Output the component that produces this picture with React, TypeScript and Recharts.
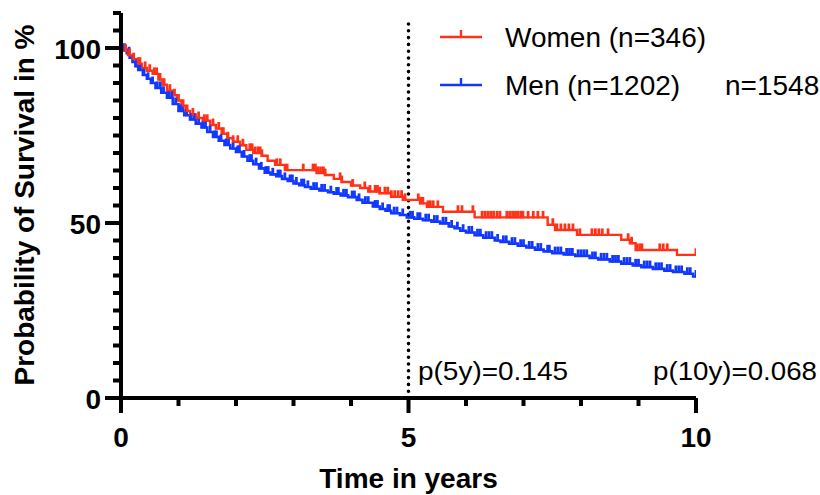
import React from 'react';
import { ComposedChart, Line, XAxis, YAxis, ReferenceLine, Legend, Label } from 'recharts';

const FONT = '"Liberation Sans", Arial, Helvetica, sans-serif';
const RED = '#FF3217';
const BLUE = '#1038FF';

// Kaplan-Meier steps: Women
const womenEventTimes = [0, 0.05, 0.12, 0.2, 0.28, 0.36, 0.45, 0.55, 0.65, 0.72, 0.8, 0.9, 0.98, 1.05, 1.12, 1.2, 1.3, 1.42, 1.55, 1.65, 1.75, 1.85, 1.95, 2.07, 2.18, 2.3, 2.45, 2.55, 2.68, 2.85, 3.4, 3.55, 3.7, 3.84, 4.0, 4.16, 4.3, 4.5, 4.7, 4.9, 5.2, 5.32, 5.6, 6.15, 7.42, 7.55, 7.93, 8.7, 8.85, 8.95, 9.67];
const womenEventSurv = [100, 99.2, 98.0, 96.8, 95.5, 94.3, 93.5, 92.6, 91.0, 89.5, 87.8, 86.5, 85.0, 83.5, 82.0, 81.0, 80.0, 79.2, 78.0, 77.0, 75.5, 74.2, 73.2, 72.2, 70.9, 70.0, 69.2, 67.8, 66.6, 65.1, 64.3, 63.7, 62.6, 61.7, 60.7, 60.0, 59.0, 58.5, 57.5, 56.6, 55.6, 54.6, 53.2, 51.6, 49.5, 48.0, 46.6, 45.2, 44.2, 42.3, 40.9];
const womenCensorTimes = [0.08, 0.15, 0.22, 0.3, 0.33, 0.42, 0.5, 0.58, 0.62, 0.68, 0.75, 0.85, 0.93, 1.0, 1.08, 1.15, 1.25, 1.35, 1.45, 1.5, 1.6, 1.7, 1.78, 1.86, 1.95, 2.03, 2.12, 2.24, 2.28, 2.33, 2.38, 2.42, 2.45, 2.71, 2.77, 2.89, 3.17, 3.34, 3.38, 3.42, 3.47, 3.52, 3.55, 3.81, 3.84, 4.03, 4.24, 4.33, 4.42, 4.46, 4.5, 4.59, 4.64, 4.7, 4.76, 4.82, 4.88, 4.94, 5.17, 5.21, 5.25, 5.34, 5.38, 5.43, 5.51, 5.86, 5.93, 6.12, 6.28, 6.33, 6.38, 6.43, 6.48, 6.54, 6.59, 6.71, 6.76, 6.81, 6.86, 6.9, 6.95, 6.99, 7.08, 7.17, 7.25, 7.34, 7.51, 7.58, 7.65, 7.72, 7.79, 7.86, 7.98, 8.19, 8.25, 8.31, 8.37, 8.47, 8.82, 8.88, 8.97, 9.02, 9.06, 9.37, 9.43, 9.5, 10.0];

// Kaplan-Meier steps: Men
const menEventTimes = [0, 0.05, 0.1, 0.15, 0.2, 0.25, 0.3, 0.38, 0.45, 0.52, 0.6, 0.7, 0.8, 0.9, 1.0, 1.1, 1.2, 1.3, 1.4, 1.5, 1.6, 1.7, 1.8, 1.9, 2.0, 2.1, 2.2, 2.3, 2.4, 2.5, 2.6, 2.7, 2.8, 2.9, 3.0, 3.1, 3.2, 3.3, 3.45, 3.6, 3.7, 3.82, 3.95, 4.1, 4.2, 4.38, 4.5, 4.6, 4.7, 4.85, 4.97, 5.1, 5.25, 5.4, 5.55, 5.7, 5.8, 5.9, 6.0, 6.15, 6.3, 6.5, 6.6, 6.75, 6.9, 7.05, 7.2, 7.35, 7.5, 7.7, 7.9, 8.15, 8.3, 8.5, 8.7, 8.9, 9.05, 9.25, 9.45, 9.6, 9.8, 9.95];
const menEventSurv = [100, 99.5, 98.5, 97.2, 96.0, 94.8, 93.7, 92.3, 91.2, 90.0, 88.6, 87.2, 85.8, 84.0, 82.0, 80.8, 79.6, 78.4, 77.3, 76.0, 74.6, 73.5, 72.3, 71.3, 70.3, 69.0, 67.8, 66.8, 65.6, 64.4, 63.9, 63.4, 62.6, 62.0, 61.3, 60.8, 60.3, 59.8, 59.3, 58.8, 58.4, 57.9, 57.4, 56.6, 55.8, 54.7, 54.0, 53.5, 52.8, 52.3, 51.6, 51.2, 50.8, 50.4, 49.9, 49.0, 48.5, 47.8, 47.3, 46.5, 45.8, 45.0, 44.6, 44.1, 43.5, 43.0, 42.4, 41.9, 41.4, 41.0, 40.6, 40.0, 39.6, 39.0, 38.4, 37.9, 37.4, 36.9, 36.4, 36.0, 35.5, 34.7];
const menCensorTimes = [0.06, 0.14, 0.21, 0.27, 0.33, 0.4, 0.47, 0.55, 0.63, 0.68, 0.74, 0.83, 0.88, 0.95, 1.03, 1.07, 1.14, 1.22, 1.27, 1.35, 1.43, 1.47, 1.55, 1.63, 1.66, 1.74, 1.83, 1.87, 1.95, 2.03, 2.06, 2.14, 2.24, 2.27, 2.35, 2.44, 2.52, 2.56, 2.64, 2.73, 2.77, 2.85, 2.94, 2.98, 3.05, 3.14, 3.18, 3.25, 3.35, 3.4, 3.49, 3.54, 3.65, 3.75, 3.78, 3.87, 3.92, 4.02, 4.06, 4.14, 4.25, 4.3, 4.42, 4.46, 4.55, 4.64, 4.67, 4.75, 4.8, 4.9, 5.03, 5.07, 5.16, 5.2, 5.3, 5.35, 5.45, 5.5, 5.6, 5.65, 5.75, 5.85, 5.95, 6.05, 6.1, 6.2, 6.25, 6.35, 6.4, 6.45, 6.55, 6.65, 6.7, 6.8, 6.85, 6.95, 7.0, 7.1, 7.15, 7.25, 7.3, 7.42, 7.45, 7.55, 7.6, 7.65, 7.75, 7.8, 7.85, 7.95, 8.0, 8.05, 8.1, 8.2, 8.25, 8.35, 8.4, 8.45, 8.55, 8.6, 8.65, 8.75, 8.8, 8.85, 8.95, 9.0, 9.1, 9.15, 9.2, 9.3, 9.35, 9.4, 9.5, 9.55, 9.65, 9.7, 9.75, 9.85, 9.9, 10.0];

const xTicks = [0, 1, 2, 3, 4, 5, 6, 7, 8, 9, 10];
const xMajorTicks = [0, 5, 10];
const yTicks = [0, 5, 10, 15, 20, 25, 30, 35, 40, 45, 50, 55, 60, 65, 70, 75, 80, 85, 90, 95, 100, 105, 110];
const yMajorTicks = [0, 50, 100];
const seriesNames = ['Women (n=346)', 'Men (n=1202)'];
const totalLabel = 'n=1548';
const pValueLabels = ['p(5y)=0.145', 'p(10y)=0.068'];
const xAxisTitle = 'Time in years';
const yAxisTitle = 'Probability of Survival in %';

type Pt = { t: number; s: number; c: boolean };

function buildKM(times: number[], surv: number[], censor: number[]): Pt[] {
  const pts: Pt[] = times.map((t, i) => ({ t, s: surv[i], c: false }));
  censor.forEach((ct) => {
    let s = surv[0];
    for (let i = 0; i < times.length; i++) if (times[i] <= ct) s = surv[i];
    pts.push({ t: ct, s, c: true });
  });
  pts.sort((a, b) => a.t - b.t || (a.c ? 1 : 0) - (b.c ? 1 : 0));
  return pts;
}

const womenData = buildKM(womenEventTimes, womenEventSurv, womenCensorTimes);
const menData = buildKM(menEventTimes, menEventSurv, menCensorTimes);

const censorDot = (color: string) => (props: any) => {
  const { cx, cy, payload, index } = props;
  if (!payload || !payload.c || cx == null || cy == null) return <g key={`d${index}`} />;
  return <line key={`d${index}`} x1={cx} x2={cx} y1={cy + 1} y2={cy - 6.5} stroke={color} strokeWidth={2.8} />;
};

const YTick = (props: any) => {
  const { x, y, payload } = props;
  const major = yMajorTicks.includes(payload.value);
  const len = major ? 16 : 8;
  return (
    <g>
      <line x1={x - len} x2={x} y1={y} y2={y} stroke="#000" strokeWidth={4} />
      {major && (
        <text x={x - 20} y={y + 11} textAnchor="end" fontFamily={FONT} fontWeight="bold" fontSize={28} fill="#000">
          {payload.value}
        </text>
      )}
    </g>
  );
};

const XTick = (props: any) => {
  const { x, y, payload } = props;
  const major = xMajorTicks.includes(payload.value);
  const len = major ? 15 : 8;
  return (
    <g>
      <line x1={x} x2={x} y1={y} y2={y + len} stroke="#000" strokeWidth={4} />
      {major && (
        <text x={x} y={y + 49} textAnchor="middle" fontFamily={FONT} fontWeight="bold" fontSize={28} fill="#000">
          {payload.value}
        </text>
      )}
    </g>
  );
};

const DottedShape = (props: any) => {
  const { x1, y1, x2, y2 } = props;
  if ([x1, y1, x2, y2].some((v) => v == null || Number.isNaN(v))) return <g />;
  return (
    <line
      x1={x1}
      y1={y1}
      x2={x2}
      y2={y2}
      stroke="#000"
      strokeWidth={3.6}
      strokeDasharray="0 6.8"
      strokeLinecap="round"
      fill="none"
    />
  );
};

const LegendContent = () => (
  <svg width={820} height={495} style={{ display: 'block', overflow: 'visible' }}>
    <line x1={440} x2={482} y1={37} y2={37} stroke={RED} strokeWidth={2.4} />
    <line x1={461} x2={461} y1={37} y2={30} stroke={RED} strokeWidth={2.4} />
    <text x={505} y={47} fontFamily={FONT} fontSize={28} fill="#000">{seriesNames[0]}</text>
    <line x1={440} x2={482} y1={85} y2={85} stroke={BLUE} strokeWidth={2.4} />
    <line x1={461} x2={461} y1={85} y2={78} stroke={BLUE} strokeWidth={2.4} />
    <text x={505} y={95} fontFamily={FONT} fontSize={28} fill="#000">{seriesNames[1]}</text>
    <text x={725} y={95} fontFamily={FONT} fontSize={28} fill="#000">{totalLabel}</text>
    <text x={418} y={380} fontFamily={FONT} fontSize={26} fill="#000" textLength={150} lengthAdjust="spacingAndGlyphs">{pValueLabels[0]}</text>
    <text x={653} y={380} fontFamily={FONT} fontSize={26} fill="#000" textLength={164} lengthAdjust="spacingAndGlyphs">{pValueLabels[1]}</text>
  </svg>
);

export default function App() {
  return (
    <div style={{ position: 'absolute', left: 0, top: 0, width: 820, height: 495, background: '#fff' }}>
      <ComposedChart width={820} height={495} margin={{ top: 13, right: 124, left: 0, bottom: 0 }}>
        <XAxis
          type="number"
          dataKey="t"
          domain={[0, 10]}
          ticks={xTicks}
          interval={0}
          height={97}
          tickSize={0}
          tickMargin={0}
          tickLine={false}
          tick={XTick}
          axisLine={{ stroke: '#000', strokeWidth: 4 }}
          allowDataOverflow
        >
          <Label
            content={() => (
              <text x={408.5} y={488} textAnchor="middle" fontFamily={FONT} fontWeight="bold" fontSize={28} fill="#000">
                {xAxisTitle}
              </text>
            )}
          />
        </XAxis>
        <YAxis
          type="number"
          dataKey="s"
          domain={[0, 110]}
          ticks={yTicks}
          interval={0}
          width={121}
          tickSize={0}
          tickMargin={0}
          tickLine={false}
          tick={YTick}
          axisLine={{ stroke: '#000', strokeWidth: 4 }}
          allowDataOverflow
        >
          <Label
            content={() => (
              <text
                x={34}
                y={205}
                transform="rotate(-90 34 205)"
                textAnchor="middle"
                fontFamily={FONT}
                fontWeight="bold"
                fontSize={28}
                fill="#000"
              >
                {yAxisTitle}
              </text>
            )}
          />
        </YAxis>
        <ReferenceLine
          segment={[{ x: 5, y: 0 }, { x: 5, y: 108 }]}
          stroke="#000"
          shape={DottedShape}
        />
        <Line
          data={menData}
          dataKey="s"
          type="stepAfter"
          stroke={BLUE}
          strokeWidth={2.6}
          dot={censorDot(BLUE)}
          activeDot={false}
          isAnimationActive={false}
          legendType="none"
        />
        <Line
          data={womenData}
          dataKey="s"
          type="stepAfter"
          stroke={RED}
          strokeWidth={2.4}
          dot={censorDot(RED)}
          activeDot={false}
          isAnimationActive={false}
          legendType="none"
        />
        <Legend
          layout="horizontal"
          verticalAlign="middle"
          align="center"
          content={LegendContent}
          wrapperStyle={{ position: 'absolute', left: 0, top: 0, width: 820, height: 495, pointerEvents: 'none' }}
        />
      </ComposedChart>
    </div>
  );
}
